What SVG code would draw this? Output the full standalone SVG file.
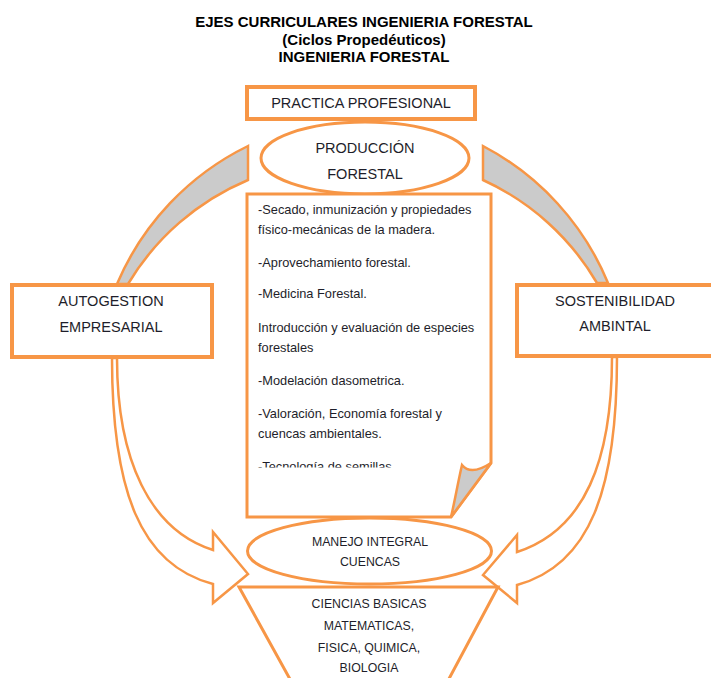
<svg xmlns="http://www.w3.org/2000/svg" width="711" height="678" viewBox="0 0 711 678">
<style>
.o{stroke:#F79646;fill:#fff;stroke-linejoin:miter}
.box{stroke-width:4}
.thin{stroke-width:2.5}
.g{fill:#CBCBCB}
.title{font-family:"Liberation Sans",Arial,sans-serif;font-weight:bold;font-size:15px;fill:#000;text-anchor:middle}
.lbl{font-family:"Liberation Sans",Arial,sans-serif;font-size:14.5px;fill:#1e1e2a;text-anchor:middle}
.sm{font-family:"Liberation Sans",Arial,sans-serif;font-size:12.3px;fill:#1e1e2a;text-anchor:middle}
.doc{font-family:"Liberation Sans",Arial,sans-serif;font-size:12.8px;fill:#1e1e2a}
</style>
<defs>
<clipPath id="docclip"><rect x="247" y="194" width="244" height="273.5"/></clipPath>
</defs>
<rect width="711" height="678" fill="#fff"/>
<g id="title">
<text class="title" x="364" y="27">EJES CURRICULARES INGENIERIA FORESTAL</text>
<text class="title" x="364" y="45">(Ciclos Propedéuticos)</text>
<text class="title" x="364" y="62">INGENIERIA FORESTAL</text>
</g>
<g id="connectors">
<path class="o g thin" d="M117,284 A272,272 0 0 1 248,146 L248,180 A255,255 0 0 0 128,284 Z"/>
<path class="o g thin" d="M483,146 A272,272 0 0 1 608,283 L597,283 A255,255 0 0 0 483,180 Z"/>
<path class="o thin" d="M112,358 C112,490 140,565 213,584 L213,603 L248,574 L213,532 L213,550 C150,530 117,460 117,358 Z"/>
<path class="o thin" d="M617,357 C617,490 590,565 517,585 L517,603 L483,575 L517,535 L517,552 C585,530 612,460 612,357 Z"/>
</g>
<g id="practica">
<rect class="o box" x="247" y="87" width="228" height="32"/>
<text class="lbl" x="361" y="108">PRACTICA PROFESIONAL</text>
</g>
<g id="produccion">
<ellipse class="o" stroke-width="3" cx="365" cy="158" rx="104" ry="36"/>
<text class="lbl" x="365" y="153">PRODUCCIÓN</text>
<text class="lbl" x="365" y="179">FORESTAL</text>
</g>
<g id="autogestion">
<rect class="o box" x="12" y="285" width="200" height="72"/>
<text class="lbl" x="111" y="306">AUTOGESTION</text>
<text class="lbl" x="111" y="332">EMPRESARIAL</text>
</g>
<g id="sostenibilidad">
<rect class="o box" x="517" y="285" width="200" height="71"/>
<text class="lbl" x="615" y="306">SOSTENIBILIDAD</text>
<text class="lbl" x="615" y="331">AMBINTAL</text>
</g>
<g id="manejo">
<ellipse class="o" stroke-width="3" cx="369.5" cy="551" rx="122" ry="33"/>
<text class="sm" x="370" y="545.5">MANEJO INTEGRAL</text>
<text class="sm" x="370" y="566">CUENCAS</text>
</g>
<g id="documento">
<path class="o" stroke-width="3" d="M247,194 H491 V463 L451,517 H247 Z"/>
<path class="o g" stroke-width="2.5" d="M451,517 C455,500 458,482 462,465 Q471,476 491,463 Z"/>
<g clip-path="url(#docclip)">
<text class="doc" x="258" y="214">-Secado, inmunización y propiedades</text>
<text class="doc" x="258" y="234">físico-mecánicas de la madera.</text>
<text class="doc" x="258" y="267">-Aprovechamiento forestal.</text>
<text class="doc" x="258" y="298">-Medicina Forestal.</text>
<text class="doc" x="258" y="332">Introducción y evaluación de especies</text>
<text class="doc" x="258" y="352">forestales</text>
<text class="doc" x="258" y="385">-Modelación dasometrica.</text>
<text class="doc" x="258" y="418">-Valoración, Economía forestal y</text>
<text class="doc" x="258" y="438">cuencas ambientales.</text>
<text class="doc" x="258" y="471">-Tecnología de semillas</text>
</g>
</g>
<g id="ciencias">
<path class="o" stroke-width="3" d="M239,587 H498 L443,690 H296 Z"/>
<text class="sm" x="369" y="607.5">CIENCIAS BASICAS</text>
<text class="sm" x="369" y="629.5">MATEMATICAS,</text>
<text class="sm" x="369" y="651.5">FISICA, QUIMICA,</text>
<text class="sm" x="369" y="671.5">BIOLOGIA</text>
</g>
</svg>
